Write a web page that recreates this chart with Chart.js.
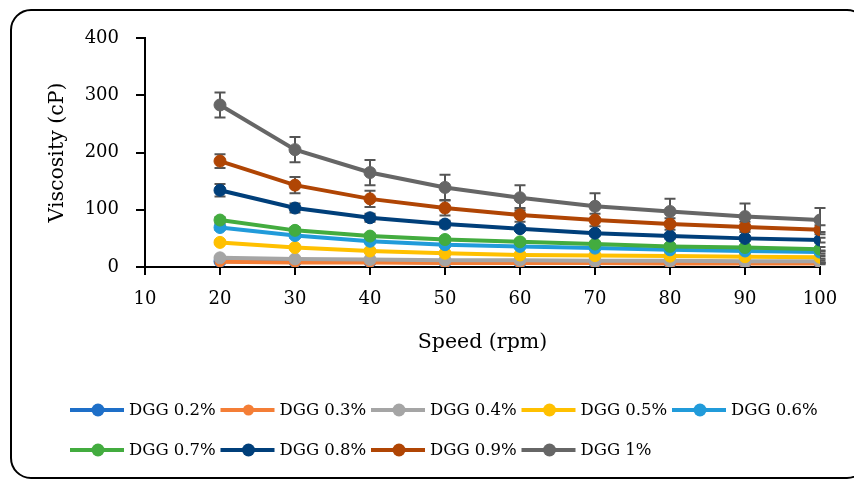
<!DOCTYPE html>
<html><head><meta charset="utf-8">
<script src="https://cdn.jsdelivr.net/npm/chart.js@4.4.1/dist/chart.umd.min.js"></script>
<style>html,body{margin:0;padding:0;background:#fff}canvas{display:block}</style>
</head><body>
<canvas id="c" width="854" height="479"></canvas>
<script>
// ---- data ----
const speeds = [20, 30, 40, 50, 60, 70, 80, 90, 100];
const xTickValues = [10, 20, 30, 40, 50, 60, 70, 80, 90, 100];
const yTickValues = [0, 100, 200, 300, 400];
const seriesLabels = ['DGG 0.2%', 'DGG 0.3%', 'DGG 0.4%', 'DGG 0.5%', 'DGG 0.6%', 'DGG 0.7%', 'DGG 0.8%', 'DGG 0.9%', 'DGG 1%'];
const seriesColors = ['#1E6FC8', '#F47E36', '#A5A5A5', '#FFC000', '#219BDA', '#43AC3F', '#003F7A', '#B04504', '#666666'];

const dgg02 = [10, 9, 9, 8, 8, 8, 7, 7, 7];
const dgg03 = [9, 8, 8, 7, 7, 7, 6, 6, 6];
const dgg04 = [16, 14, 13, 12, 12, 11, 11, 10, 10];
const dgg05 = [43, 34, 28, 24, 21, 20, 19, 18, 17];
const dgg06 = [69, 55, 45, 39, 36, 33, 30, 28, 26];
const dgg07 = [82, 64, 54, 48, 44, 40, 36, 34, 31];
const dgg08 = [134, 103, 86, 75, 67, 59, 54, 50, 47];
const dgg09 = [185, 143, 119, 103, 91, 82, 75, 70, 65];
const dgg10 = [283, 205, 165, 139, 121, 106, 97, 88, 82];

const err02 = [1, 1, 1, 1, 1, 1, 1, 1, 1];
const err03 = [1, 1, 1, 1, 1, 1, 1, 1, 1];
const err04 = [2, 2, 2, 2, 2, 2, 2, 2, 2];
const err05 = [3, 3, 3, 2, 2, 2, 2, 2, 2];
const err06 = [4, 4, 3, 3, 3, 3, 3, 3, 3];
const err07 = [5, 5, 4, 4, 4, 4, 4, 4, 4];
const err08 = [11, 8, 7, 6, 4, 4, 4, 4, 4];
const err09 = [12, 14, 14, 13, 12, 11, 10, 9, 8];
const err10 = [22, 22, 22, 22, 22, 23, 22, 23, 21];

const seriesValues = [dgg02, dgg03, dgg04, dgg05, dgg06, dgg07, dgg08, dgg09, dgg10];
const seriesErrors = [err02, err03, err04, err05, err06, err07, err08, err09, err10];

// ---- chart ----
Chart.defaults.font.family = '"DejaVu Serif", serif';
Chart.defaults.color = '#000';

const n = seriesLabels.length;
const datasets = seriesLabels.map((label, i) => ({
  label,
  data: speeds.map((s, j) => ({x: s, y: seriesValues[i][j]})),
  errors: seriesErrors[i],
  borderColor: seriesColors[i],
  backgroundColor: seriesColors[i],
  pointBackgroundColor: seriesColors[i],
  pointBorderColor: seriesColors[i],
  borderWidth: 4,
  pointRadius: i === 1 ? 5 : 6,
  pointBorderWidth: 1,
  tension: 0,
  order: n - i
}));

const errorBarPlugin = {
  id: 'errorBars',
  beforeDatasetsDraw(chart) {
    const xs = chart.scales.x, ys = chart.scales.y, ctx = chart.ctx;
    ctx.save();
    ctx.strokeStyle = '#555555';
    ctx.lineWidth = 2;
    chart.data.datasets.forEach(ds => {
      ds.data.forEach((p, j) => {
        const e = ds.errors[j];
        const px = xs.getPixelForValue(p.x);
        const top = ys.getPixelForValue(p.y + e);
        const bot = ys.getPixelForValue(p.y - e);
        ctx.beginPath();
        ctx.moveTo(px, top); ctx.lineTo(px, bot);
        ctx.moveTo(px - 5.5, top); ctx.lineTo(px + 5.5, top);
        ctx.moveTo(px - 5.5, bot); ctx.lineTo(px + 5.5, bot);
        ctx.stroke();
      });
    });
    ctx.restore();
  }
};

const legendPlugin = {
  id: 'gridLegend',
  afterDraw(chart) {
    const ctx = chart.ctx;
    chart.data.datasets.forEach((ds, i) => {
      const row = i < 5 ? 0 : 1;
      const col = i < 5 ? i : i - 5;
      const x0 = 70 + col * 150.5;
      const y = row ? 450 : 410;
      ctx.save();
      ctx.strokeStyle = ds.borderColor;
      ctx.lineWidth = 4;
      ctx.beginPath(); ctx.moveTo(x0, y); ctx.lineTo(x0 + 54, y); ctx.stroke();
      ctx.fillStyle = ds.borderColor;
      ctx.beginPath(); ctx.arc(x0 + 28, y, ds.pointRadius + 0.5, 0, Math.PI * 2); ctx.fill();
      ctx.fillStyle = '#000';
      ctx.font = '16.5px "DejaVu Serif"';
      ctx.textAlign = 'left';
      ctx.textBaseline = 'middle';
      ctx.fillText(ds.label, x0 + 59, y + 1);
      ctx.restore();
    });
  }
};

const framePlugin = {
  id: 'frame',
  beforeDraw(chart) {
    const ctx = chart.ctx;
    ctx.save();
    ctx.fillStyle = '#fff';
    ctx.fillRect(0, 0, chart.width, chart.height);
    ctx.restore();
  },
  afterDraw(chart) {
    const ctx = chart.ctx;
    ctx.save();
    ctx.strokeStyle = '#000';
    ctx.lineWidth = 2;
    ctx.beginPath();
    ctx.roundRect(11, 10, 856, 468, 20);
    ctx.stroke();
    ctx.restore();
  }
};

new Chart(document.getElementById('c'), {
  type: 'line',
  data: {datasets},
  plugins: [framePlugin, errorBarPlugin, legendPlugin],
  options: {
    responsive: false,
    animation: false,
    devicePixelRatio: 1,
    layout: {padding: {top: 38, right: 34, bottom: 0, left: 0}},
    plugins: {legend: {display: false}, tooltip: {enabled: false}},
    scales: {
      x: {
        type: 'linear',
        min: 10, max: 100,
        afterFit(s) { s.height = 212; },
        afterBuildTicks(s) { s.ticks = xTickValues.map(v => ({value: v})); },
        grid: {display: true, drawOnChartArea: false, drawTicks: true, tickLength: 8, color: '#000', lineWidth: 2},
        border: {display: true, color: '#000', width: 2},
        ticks: {font: {size: 18}, padding: 14, color: '#000', maxRotation: 0},
        title: {display: true, text: 'Speed (rpm)', font: {size: 20.5}, color: '#000', padding: {top: 0, bottom: 124}}
      },
      y: {
        min: 0, max: 400,
        afterFit(s) { s.width = 145; },
        afterBuildTicks(s) { s.ticks = yTickValues.map(v => ({value: v})); },
        grid: {display: true, drawOnChartArea: false, drawTicks: true, tickLength: 9, color: '#000', lineWidth: 2},
        border: {display: true, color: '#000', width: 2},
        ticks: {font: {size: 18}, padding: 17, color: '#000'},
        title: {display: true, text: 'Viscosity (cP)', font: {size: 20.5}, color: '#000', padding: {top: 45, bottom: 0}}
      }
    }
  }
});
</script>
</body></html>
